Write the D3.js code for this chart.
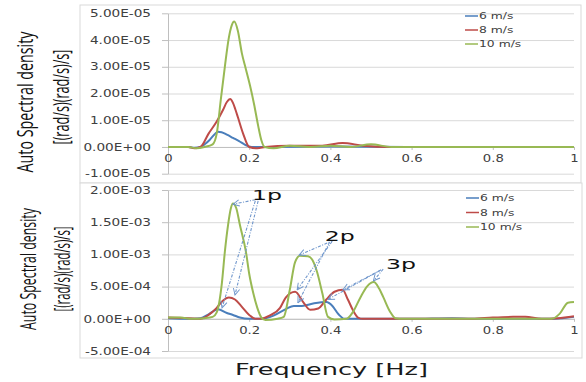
<!DOCTYPE html>
<html><head><meta charset="utf-8">
<script src="https://cdn.jsdelivr.net/npm/d3@7"></script>
<style>
html,body{margin:0;padding:0;background:#fff;}
svg{display:block;}
</style></head>
<body>
<script>
// ---------------- DATA ----------------
const seriesNames = ["6 m/s", "8 m/s", "10 m/s"];
const seriesColors = ["#4a7ebb", "#be4b48", "#98b954"];

const xTicks = [0, 0.2, 0.4, 0.6, 0.8, 1];
const xTickLabels = ["0", "0.2", "0.4", "0.6", "0.8", "1"];

const topYTicks = [-1e-5, 0, 1e-5, 2e-5, 3e-5, 4e-5, 5e-5];
const topYTickLabels = ["-1.00E-05", "0.00E+00", "1.00E-05", "2.00E-05", "3.00E-05", "4.00E-05", "5.00E-05"];
const botYTicks = [-5e-4, 0, 5e-4, 1e-3, 1.5e-3, 2e-3];
const botYTickLabels = ["-5.00E-04", "0.00E+00", "5.00E-04", "1.00E-03", "1.50E-03", "2.00E-03"];

// Top panel (values in 1e-5)
const top6Freq = [0, 0.05, 0.065, 0.08, 0.092, 0.103, 0.115, 0.123, 0.132, 0.145, 0.16, 0.175, 0.19, 0.206, 0.25, 0.4, 0.6, 1.0];
const top6Val  = [0, 0, -0.03, 0, 0.12, 0.27, 0.48, 0.57, 0.55, 0.46, 0.34, 0.22, 0.08, 0, 0, 0.02, 0, 0];
const top8Freq = [0, 0.05, 0.065, 0.08, 0.1, 0.12, 0.136, 0.145, 0.153, 0.16, 0.166, 0.172, 0.185, 0.2, 0.22, 0.24, 0.3, 0.38, 0.43, 0.48, 0.55, 0.7, 1.0];
const top8Val  = [0, 0, -0.05, 0, 0.5, 0.95, 1.4, 1.68, 1.79, 1.65, 1.4, 1.12, 0.5, 0, -0.05, 0, 0.05, 0.05, 0.15, 0.05, 0, 0, 0];
const top10Freq = [0, 0.05, 0.07, 0.09, 0.11, 0.12, 0.13, 0.14, 0.15, 0.157, 0.163, 0.172, 0.182, 0.192, 0.202, 0.212, 0.222, 0.23, 0.238, 0.26, 0.3, 0.35, 0.4, 0.45, 0.5, 0.55, 0.6, 0.8, 1.0];
const top10Val  = [0, 0, -0.05, 0, 0.1, 0.5, 1.76, 3.0, 4.1, 4.55, 4.69, 4.35, 3.5, 2.9, 2.3, 1.6, 0.8, 0.25, 0, -0.05, 0.05, 0, 0.05, 0, 0.1, 0, 0, 0, 0];

// Bottom panel (values in 1e-3)
const bot6Freq = [0, 0.05, 0.08, 0.1, 0.123, 0.145, 0.16, 0.177, 0.2, 0.23, 0.26, 0.29, 0.31, 0.33, 0.36, 0.39, 0.405, 0.42, 0.435, 0.5, 0.6, 0.7, 0.75, 0.9, 0.95, 1.0];
const bot6Val  = [0.01, 0, 0.01, 0.07, 0.15, 0.09, 0.06, 0.02, 0, 0, 0.05, 0.15, 0.2, 0.2, 0.24, 0.26, 0.2, 0.07, 0, 0, 0, 0.01, 0, 0, 0, 0.03];
const bot8Freq = [0, 0.05, 0.08, 0.1, 0.12, 0.135, 0.15, 0.165, 0.18, 0.2, 0.215, 0.23, 0.25, 0.276, 0.29, 0.313, 0.333, 0.35, 0.37, 0.39, 0.41, 0.43, 0.443, 0.455, 0.468, 0.48, 0.6, 0.75, 0.8, 0.85, 0.88, 0.92, 0.96, 1.0];
const bot8Val  = [0.02, 0.01, 0, 0.06, 0.17, 0.28, 0.33, 0.3, 0.2, 0.06, 0, 0, 0.05, 0.17, 0.33, 0.42, 0.26, 0.14, 0.16, 0.3, 0.42, 0.45, 0.3, 0.14, 0.02, 0, 0, 0, 0.02, 0.03, 0.03, 0, 0.01, 0.04];
const bot10Freq = [0, 0.03, 0.06, 0.09, 0.11, 0.12, 0.133, 0.14, 0.148, 0.155, 0.16, 0.168, 0.177, 0.192, 0.2, 0.21, 0.22, 0.23, 0.24, 0.27, 0.285, 0.3, 0.313, 0.325, 0.345, 0.355, 0.367, 0.38, 0.394, 0.41, 0.44, 0.455, 0.473, 0.49, 0.507, 0.52, 0.53, 0.547, 0.56, 0.58, 0.7, 0.8, 0.9, 0.945, 0.965, 0.985, 1.0];
const bot10Val  = [0.02, 0.02, 0, 0.01, 0.03, 0.1, 0.57, 1.04, 1.46, 1.72, 1.79, 1.72, 1.46, 1.04, 0.7, 0.4, 0.17, 0.02, -0.02, 0, 0.03, 0.45, 0.88, 0.98, 0.97, 0.92, 0.73, 0.4, 0.03, -0.01, 0, 0.1, 0.32, 0.5, 0.57, 0.47, 0.34, 0.11, 0.01, 0, 0, 0, 0, 0, 0.08, 0.25, 0.26];

// Annotations (bottom panel; freq in Hz, value in 1e-3)
const annLabels = ["1p", "2p", "3p"];
const annLabelFreq = [0.207, 0.386, 0.537];
const annLabelVal = [1.85, 1.21, 0.78];
// arrows: [labelIndex, startFreq, startVal, endFreq, endVal]
const annArrows = [
  [0, 0.232, 1.87, 0.160, 1.78],
  [0, 0.222, 1.83, 0.165, 0.37],
  [0, 0.215, 1.83, 0.133, 0.17],
  [1, 0.408, 1.22, 0.323, 0.99],
  [1, 0.404, 1.20, 0.318, 0.45],
  [1, 0.398, 1.19, 0.320, 0.25],
  [2, 0.530, 0.77, 0.506, 0.59],
  [2, 0.525, 0.76, 0.431, 0.45],
  [2, 0.522, 0.75, 0.394, 0.30]
];

// ---------------- DRAW ----------------
const W = 586, H = 382;
const svg = d3.select("body").append("svg").attr("width", W).attr("height", H);
const tickFont = "'DejaVu Sans', Verdana, sans-serif";
const titleFont = "'Open Sans', 'Noto Sans', sans-serif";

function stretch(sel, k) {
  sel.each(function () {
    const w = this.getComputedTextLength();
    this.setAttribute("textLength", w * k);
    this.setAttribute("lengthAdjust", "spacingAndGlyphs");
  });
}

const x = d3.scaleLinear().domain([0, 1]).range([168, 574]);

function panel(cfg) {
  const g = svg.append("g");
  g.append("rect").attr("x", cfg.box[0]).attr("y", cfg.box[1])
    .attr("width", cfg.box[2] - cfg.box[0]).attr("height", cfg.box[3] - cfg.box[1])
    .attr("fill", "#fff").attr("stroke", "#d9d9d9").attr("stroke-width", 1);

  const y = d3.scaleLinear().domain(cfg.yDomain).range(cfg.yRange);

  g.append("g").attr("transform", `translate(${x(1)},0)`)
    .call(d3.axisLeft(y).tickValues(cfg.yTicks).tickSize(x(1) - x(0)).tickFormat(""))
    .call(a => a.select(".domain").remove())
    .call(a => a.selectAll("line").attr("stroke", "#d9d9d9"));

  const ya = g.append("g").attr("transform", `translate(${x(0)},0)`)
    .call(d3.axisLeft(y).tickValues(cfg.yTicks).tickSizeInner(6).tickSizeOuter(0).tickPadding(11)
      .tickFormat((d, i) => cfg.yLabels[i]));
  ya.select(".domain").attr("stroke", "#bfbfbf");
  ya.selectAll("line").attr("stroke", "#bfbfbf");
  ya.selectAll("text").attr("font-family", tickFont).attr("font-size", 10).attr("fill", "#404040");
  stretch(ya.selectAll("text"), 1.36);

  const xa = g.append("g").attr("transform", `translate(0,${y(0)})`)
    .call(d3.axisBottom(x).tickValues(xTicks).tickSizeInner(3).tickSizeOuter(0).tickPadding(5)
      .tickFormat((d, i) => xTickLabels[i]));
  xa.select(".domain").attr("stroke", "#bfbfbf");
  xa.selectAll("line").attr("stroke", "#bfbfbf");
  xa.selectAll("text").attr("font-family", tickFont).attr("font-size", 10).attr("fill", "#404040");
  stretch(xa.selectAll("text"), 1.32);

  const line = d3.line().x(d => x(d[0])).y(d => y(d[1] * cfg.unit)).curve(d3.curveMonotoneX);
  cfg.series.forEach((s, i) => {
    const pts = s.f.map((f, j) => [f, s.v[j]]);
    g.append("path").datum(pts).attr("d", line)
      .attr("fill", "none").attr("stroke", seriesColors[i]).attr("stroke-width", 2)
      .attr("stroke-linejoin", "round");
  });

  const lg = g.append("g");
  seriesNames.forEach((n, i) => {
    const ly = cfg.legendY + i * cfg.legendDy;
    lg.append("line").attr("x1", cfg.legendX).attr("x2", cfg.legendX + 13)
      .attr("y1", ly).attr("y2", ly).attr("stroke", seriesColors[i]).attr("stroke-width", 1.5);
    const t = lg.append("text").attr("x", cfg.legendX + 14).attr("y", ly).attr("dy", "0.35em")
      .attr("font-family", tickFont).attr("font-size", 9.5).attr("fill", "#404040").text(n);
    stretch(t, 1.3);
  });

  // rotated y titles, compressed along their length with a scale transform
  cfg.titles.forEach(tt => {
    const t = g.append("text")
      .attr("text-anchor", "middle").attr("font-family", titleFont).attr("font-size", tt.size)
      .attr("fill", "#111").text(tt.text);
    const w = t.node().getComputedTextLength();
    t.attr("transform", `translate(${tt.x},${tt.y}) rotate(-90) scale(${tt.len / w},1)`);
  });
  return { g, y };
}

panel({
  box: [80, 5, 581, 183],
  yDomain: [-1e-5, 5e-5], yRange: [173.7, 13.3],
  yTicks: topYTicks, yLabels: topYTickLabels, unit: 1e-5,
  series: [{ f: top6Freq, v: top6Val }, { f: top8Freq, v: top8Val }, { f: top10Freq, v: top10Val }],
  legendX: 465, legendY: 16, legendDy: 14,
  titles: [
    { text: "Auto Spectral density", x: 33, y: 102, len: 141, size: 21 },
    { text: "[(rad/s)(rad/s)/s]", x: 69, y: 97, len: 95, size: 21 }
  ]
});

const bot = panel({
  box: [80, 183, 582, 358],
  yDomain: [-5e-4, 2e-3], yRange: [351, 190],
  yTicks: botYTicks, yLabels: botYTickLabels, unit: 1e-3,
  series: [{ f: bot6Freq, v: bot6Val }, { f: bot8Freq, v: bot8Val }, { f: bot10Freq, v: bot10Val }],
  legendX: 466, legendY: 198, legendDy: 14.5,
  titles: [
    { text: "Auto Spectral density", x: 36, y: 269, len: 122, size: 21 },
    { text: "[(rad/s)(rad/s)/s]", x: 70, y: 269, len: 85, size: 21 }
  ]
});

const yb = bot.y;
const defs = svg.append("defs");
defs.append("marker").attr("id", "arr").attr("viewBox", "0 0 10 10").attr("refX", 9).attr("refY", 5)
  .attr("markerWidth", 8).attr("markerHeight", 8).attr("orient", "auto-start-reverse")
  .attr("markerUnits", "userSpaceOnUse")
  .append("path").attr("d", "M1,1 L9,5 L1,9").attr("fill", "none").attr("stroke", "#6f96cc").attr("stroke-width", 1.2);

const ag = bot.g.append("g");
annArrows.forEach(a => {
  ag.append("line")
    .attr("x1", x(a[1])).attr("y1", yb(a[2] * 1e-3))
    .attr("x2", x(a[3])).attr("y2", yb(a[4] * 1e-3))
    .attr("stroke", "#6f96cc").attr("stroke-width", 1.1)
    .attr("stroke-dasharray", "3,1.5,1,1.5")
    .attr("marker-end", "url(#arr)");
});
annLabels.forEach((t, i) => {
  ag.append("text").attr("x", x(annLabelFreq[i])).attr("y", yb(annLabelVal[i] * 1e-3))
    .attr("font-family", tickFont).attr("font-size", 14).attr("fill", "#111")
    .attr("textLength", 30).attr("lengthAdjust", "spacingAndGlyphs").text(t);
});

svg.append("text").attr("x", 235).attr("y", 375)
  .attr("font-family", tickFont).attr("font-size", 15).attr("fill", "#1a1a1a")
  .attr("textLength", 193).attr("lengthAdjust", "spacingAndGlyphs").text("Frequency  [Hz]");
</script>
</body></html>
